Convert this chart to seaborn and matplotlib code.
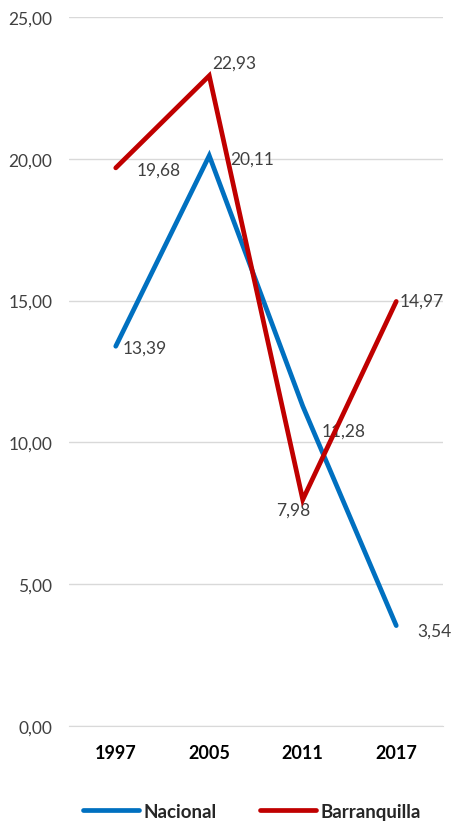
import pandas as pd
import seaborn as sns
import matplotlib.pyplot as plt

# Data
years = ["1997", "2005", "2011", "2017"]
nacional = [13.39, 20.11, 11.28, 3.54]
barranquilla = [19.68, 22.93, 7.98, 14.97]
series_names = ["Nacional", "Barranquilla"]
y_ticks = [0, 5, 10, 15, 20, 25]

df = pd.DataFrame({
    "year": years * 2,
    "value": nacional + barranquilla,
    "serie": [series_names[0]] * 4 + [series_names[1]] * 4,
})

sns.set_style("white")
plt.rcParams["font.family"] = ["Lato", "DejaVu Sans"]

fig = plt.figure(figsize=(4.54, 8.28), dpi=100)
ax = fig.add_axes([69 / 454, 1 - 727 / 828, (443 - 69) / 454, (727 - 18) / 828])

palette = {"Nacional": "#0070C0", "Barranquilla": "#C00000"}
sns.lineplot(data=df, x="year", y="value", hue="serie", palette=palette,
             sort=False, linewidth=3.4, legend=False, ax=ax, zorder=3)
for line in ax.get_lines():
    line.set_solid_capstyle("round")
    line.set_solid_joinstyle("miter")

# data labels (offsets in pixels, left edge / vertical center)
offsets = {
    "Nacional": [(7, -1), (21, -3), (19, -25), (21, -5)],
    "Barranquilla": [(21, -2), (3, 13), (-27, -10), (3, 1)],
}
for name, vals in zip(series_names, [nacional, barranquilla]):
    for i, v in enumerate(vals):
        ax.annotate(f"{v:.2f}".replace(".", ","), (i, v),
                    xytext=offsets[name][i], textcoords="offset pixels",
                    ha="left", va="center", fontsize=12.5, color="#404040", zorder=2)

ax.set_xlim(-0.5, 3.5)
ax.set_ylim(0, 25)
ax.set_yticks(y_ticks)
ax.set_yticklabels([f"{t:.2f}".replace(".", ",") for t in y_ticks],
                   fontsize=12.5, color="#404040")
ax.set_xticks(range(len(years)))
ax.set_xticklabels(years, fontsize=13, fontweight="bold", color="black")
ax.tick_params(axis="y", length=0, pad=12)
ax.tick_params(axis="x", length=0, pad=13)
ax.grid(axis="y", color="#D9D9D9", linewidth=1)
ax.set_axisbelow(True)
ax.set_xlabel("")
ax.set_ylabel("")
for s in ax.spines.values():
    s.set_visible(False)
ax.spines["bottom"].set_visible(True)
ax.spines["bottom"].set_color("#D9D9D9")

handles = ax.get_lines()[:2]
leg = fig.legend(handles, series_names, loc="lower center", ncol=2,
                 bbox_to_anchor=(0.555, -0.012), frameon=False, handlelength=3.0,
                 columnspacing=2.3, handletextpad=0.25,
                 prop={"size": 13.5, "weight": "bold"})

fig.savefig("out.png", dpi=100)
